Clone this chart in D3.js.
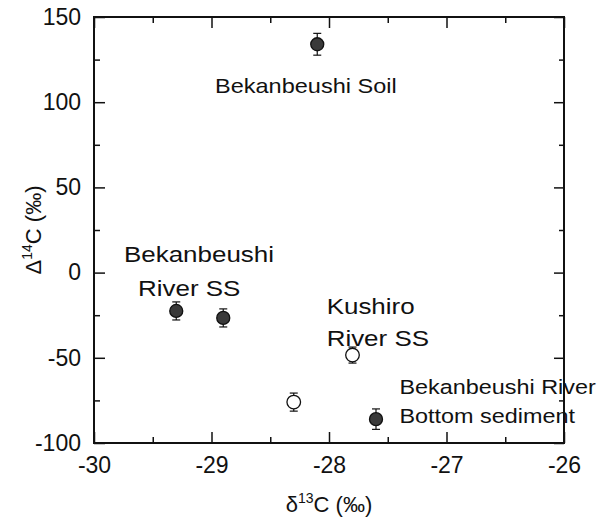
<!DOCTYPE html>
<html>
<head>
<meta charset="utf-8">
<script src="https://cdn.jsdelivr.net/npm/d3@7"></script>
<style>
  body { margin: 0; background: #fff; }
  svg text { font-family: "Liberation Sans", Arial, sans-serif; fill: #111; }
</style>
</head>
<body>
<div id="chart"></div>
<script>
// d13C (permil), D14C (permil), error, filled?
var d13c   = [-28.1, -29.3, -28.9, -27.6, -27.8, -28.3];
var d14c   = [134, -22.5, -26.6, -86, -48.4, -76];
var errs   = [6.4, 5.3, 5.3, 6, 4.7, 5.3];
var filled = [true, true, true, true, false, false];

var xTicks = [-30, -29, -28, -27, -26];
var yTicks = [-100, -50, 0, 50, 100, 150];

var width = 606, height = 517;
var margin = { top: 17, right: 42, bottom: 74, left: 94 };
var w = width - margin.left - margin.right;
var h = height - margin.top - margin.bottom;

var svg = d3.select('#chart')
  .append('svg')
    .attr('width', width)
    .attr('height', height);

var g = svg.append('g')
    .attr('transform', 'translate(' + margin.left + ',' + margin.top + ')');

var x = d3.scaleLinear().domain([-30, -26]).range([0, w]);
var y = d3.scaleLinear().domain([-100, 150]).range([h, 0]);

var minorX = d3.range(-29.5, -26, 1);
var minorY = d3.range(-75, 150, 50);

// plain hyphen, like the original
var fmt = function (d) { return String(d); };

function styleAxis(sel) {
  sel.select('.domain').remove();
  sel.selectAll('line').attr('stroke', '#111').attr('stroke-width', 1.5);
  sel.selectAll('text').attr('font-size', 23).attr('fill', '#111');
}

// bottom
g.append('g').attr('transform', 'translate(0,' + h + ')')
  .call(d3.axisBottom(x).tickValues(xTicks).tickSize(-11).tickPadding(14).tickFormat(fmt))
  .call(styleAxis);
g.append('g').attr('transform', 'translate(0,' + h + ')')
  .call(d3.axisBottom(x).tickValues(minorX).tickSize(-6).tickFormat(''))
  .call(styleAxis);
// top
g.append('g')
  .call(d3.axisTop(x).tickValues(xTicks).tickSize(-11).tickFormat(''))
  .call(styleAxis);
g.append('g')
  .call(d3.axisTop(x).tickValues(minorX).tickSize(-6).tickFormat(''))
  .call(styleAxis);
// left
g.append('g')
  .call(d3.axisLeft(y).tickValues(yTicks).tickSize(-11).tickPadding(13).tickFormat(fmt))
  .call(styleAxis);
g.append('g')
  .call(d3.axisLeft(y).tickValues(minorY).tickSize(-6).tickFormat(''))
  .call(styleAxis);
// right
g.append('g').attr('transform', 'translate(' + w + ',0)')
  .call(d3.axisRight(y).tickValues(yTicks).tickSize(-10).tickFormat(''))
  .call(styleAxis);
g.append('g').attr('transform', 'translate(' + w + ',0)')
  .call(d3.axisRight(y).tickValues(minorY).tickSize(-5).tickFormat(''))
  .call(styleAxis);

g.append('rect')
    .attr('width', w)
    .attr('height', h)
    .attr('fill', 'none')
    .attr('stroke', '#111')
    .attr('stroke-width', 2);

// points with error bars
var pts = d3.range(d13c.length).map(function (i) {
  return { x: d13c[i], y: d14c[i], e: errs[i], f: filled[i] };
});

var pg = g.selectAll('.pt')
    .data(pts)
    .enter()
  .append('g');

pg.append('line')
    .attr('x1', function (d) { return x(d.x); })
    .attr('x2', function (d) { return x(d.x); })
    .attr('y1', function (d) { return y(d.y + d.e); })
    .attr('y2', function (d) { return y(d.y - d.e); })
    .attr('stroke', '#111').attr('stroke-width', 1.2);

[1, -1].forEach(function (s) {
  pg.append('line')
      .attr('x1', function (d) { return x(d.x) - 4; })
      .attr('x2', function (d) { return x(d.x) + 4; })
      .attr('y1', function (d) { return y(d.y + s * d.e); })
      .attr('y2', function (d) { return y(d.y + s * d.e); })
      .attr('stroke', '#111').attr('stroke-width', 1.2);
});

pg.append('circle')
    .attr('cx', function (d) { return x(d.x); })
    .attr('cy', function (d) { return y(d.y); })
    .attr('r', function (d) { return d.f ? 6.5 : 6.8; })
    .attr('fill', function (d) { return d.f ? '#3a3a3a' : '#fff'; })
    .attr('stroke', '#111')
    .attr('stroke-width', 1.3);

// annotations (anchored in data units)
var notes = [
  { t: 'Bekanbeushi Soil', x: -28.97, y: 105.4, s: 21, k: 1.12 },
  { t: 'Bekanbeushi', x: -29.745, y: 6.5, s: 22, k: 1.18 },
  { t: 'River SS', x: -29.625, y: -13.5, s: 22, k: 1.18 },
  { t: 'Kushiro', x: -28.02, y: -24.5, s: 22, k: 1.18 },
  { t: 'River SS', x: -28.02, y: -43.3, s: 22, k: 1.18 },
  { t: 'Bekanbeushi River', x: -27.4, y: -71, s: 19.5, k: 1.2 },
  { t: 'Bottom sediment', x: -27.4, y: -88, s: 19.5, k: 1.2 }
];

g.selectAll('.note')
    .data(notes)
    .enter()
  .append('text')
    .attr('transform', function (d) { return 'translate(' + x(d.x) + ',' + y(d.y) + ') scale(' + d.k + ',1)'; })
    .attr('font-size', function (d) { return d.s; })
    .text(function (d) { return d.t; });

// axis titles
var xt = svg.append('text')
    .attr('x', margin.left + w / 2)
    .attr('y', 512)
    .attr('text-anchor', 'middle')
    .attr('font-size', 22);
xt.append('tspan').text('δ');
xt.append('tspan').attr('font-size', 14).attr('dy', -9).text('13');
xt.append('tspan').attr('dy', 9).text('C (‰)');

var yt = svg.append('text')
    .attr('transform', 'translate(41,' + (margin.top + h / 2) + ') rotate(-90)')
    .attr('text-anchor', 'middle')
    .attr('font-size', 22);
yt.append('tspan').text('Δ');
yt.append('tspan').attr('font-size', 14).attr('dy', -9).text('14');
yt.append('tspan').attr('dy', 9).text('C (‰)');
</script>
</body>
</html>
